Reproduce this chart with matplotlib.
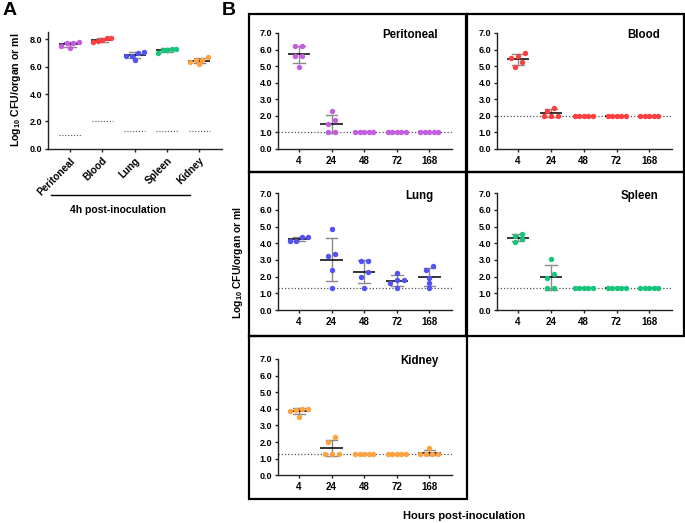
import numpy as np
import matplotlib
matplotlib.use('Agg')
import matplotlib.pyplot as plt
from matplotlib.lines import Line2D
from matplotlib.patches import Rectangle

plt.rcParams['font.family'] = ['Liberation Sans', 'DejaVu Sans']
plt.rcParams['font.weight'] = 'bold'
plt.rcParams['mathtext.fontset'] = 'custom'
plt.rcParams['mathtext.rm'] = 'Liberation Sans:bold'
plt.rcParams['mathtext.it'] = 'Liberation Sans:bold'
plt.rcParams['mathtext.bf'] = 'Liberation Sans:bold'

# ---------------- data ----------------
organs = ['Peritoneal', 'Blood', 'Lung', 'Spleen', 'Kidney']
organ_colors = ['#c35ce0', '#ff3f3f', '#5252f5', '#17c57a', '#ffa23f']
detection_limit = [1.0, 2.0, 1.3, 1.3, 1.3]
hours = ['4', '24', '48', '72', '168']

# Panel A: 4 h post-inoculation
a_peritoneal = [7.82, 7.70, 7.50, 7.40, 7.72]
a_blood = [8.12, 7.92, 7.80, 7.85, 8.10]
a_lung = [7.05, 6.80, 6.48, 6.80, 7.02]
a_spleen = [7.32, 7.20, 7.02, 7.25, 7.30]
a_kidney = [6.68, 6.50, 6.22, 6.32, 6.52]

# Panel B: time course (hours 4, 24, 48, 72, 168)
b_peritoneal = [[6.2, 6.2, 5.6, 5.6, 4.95],
                [2.3, 1.75, 1.5, 1.0, 1.0],
                [1.0, 1.0, 1.0, 1.0, 1.0],
                [1.0, 1.0, 1.0, 1.0, 1.0],
                [1.0, 1.0, 1.0, 1.0, 1.0]]
b_blood = [[5.8, 5.6, 5.5, 5.25, 4.95],
           [2.5, 2.3, 2.0, 2.0, 2.0],
           [2.0, 2.0, 2.0, 2.0, 2.0],
           [2.0, 2.0, 2.0, 2.0, 2.0],
           [2.0, 2.0, 2.0, 2.0, 2.0]]
b_lung = [[4.35, 4.13, 4.13, 4.38],
          [4.84, 3.34, 3.24, 2.40, 1.30],
          [2.95, 2.95, 2.25, 2.00, 1.30],
          [2.22, 1.82, 1.80, 1.62, 1.32],
          [2.66, 2.38, 1.94, 1.62, 1.30]]
b_spleen = [[4.58, 4.42, 4.24, 4.08],
            [3.06, 2.18, 1.94, 1.30, 1.30],
            [1.3, 1.3, 1.3, 1.3, 1.3],
            [1.3, 1.3, 1.3, 1.3, 1.3],
            [1.3, 1.3, 1.3, 1.3, 1.3]]
b_kidney = [[4.02, 3.95, 3.85, 4.02, 3.52],
            [2.32, 2.02, 1.30, 1.30, 1.30],
            [1.3, 1.3, 1.3, 1.3, 1.3],
            [1.3, 1.3, 1.3, 1.3, 1.3],
            [1.62, 1.30, 1.30, 1.30, 1.30]]

a_data = [a_peritoneal, a_blood, a_lung, a_spleen, a_kidney]
b_data = [b_peritoneal, b_blood, b_lung, b_spleen, b_kidney]

# ---------------- figure ----------------
W, H = 685, 523
fig = plt.figure(figsize=(W / 100, H / 100), dpi=100)


def add_ax(x0, x1, ytop, ybot):
    return fig.add_axes([x0 / W, 1 - ybot / H, (x1 - x0) / W, (ybot - ytop) / H])


BIN_PX = 5.0
MAX_STEP_PX = 7.0
MAX_SPAN_PX = 18.0


def swarm(ax, x, vals, color, ms=3.9):
    vals = np.asarray(vals, float)
    t0 = ax.transData.transform((0, 0))
    t1 = ax.transData.transform((1, 1))
    pxx, pxy = t1[0] - t0[0], t1[1] - t0[1]
    order = np.argsort(-vals, kind='stable')
    bins, cur = [], []
    for i in order:
        if cur and (vals[cur[0]] - vals[i]) * pxy < BIN_PX:
            cur.append(i)
        else:
            if cur:
                bins.append(cur)
            cur = [i]
    bins.append(cur)
    offs = np.zeros(len(vals))
    for b in bins:
        bs = sorted(b, key=lambda i: vals[i])
        n = len(bs)
        step = min(MAX_STEP_PX, MAX_SPAN_PX / (n - 1)) if n > 1 else 0
        for k, i in enumerate(bs):
            offs[i] = (k - (n - 1) / 2) * step / pxx
    m, s = vals.mean(), vals.std(ddof=1)
    ax.plot([x - 0.34, x + 0.34], [m, m], color='black', lw=1.1, zorder=2,
            solid_capstyle='butt')
    if s > 0:
        ax.plot([x, x], [m - s, m + s], color='#8a8a8a', lw=1.0, zorder=1.5)
        for yy in (m - s, m + s):
            ax.plot([x - 0.18, x + 0.18], [yy, yy], color='#8a8a8a', lw=1.0,
                    zorder=1.5)
    ax.plot(x + offs, vals, 'o', color=color, ms=ms, mew=0, zorder=3)


def style(ax, yticks, xlabels, xfs=7, rot=0):
    for sp in ('top', 'right'):
        ax.spines[sp].set_visible(False)
    for sp in ('left', 'bottom'):
        ax.spines[sp].set_linewidth(1.0)
        ax.spines[sp].set_color('#222222')
    ax.set_yticks(yticks)
    ax.set_yticklabels([f'{v:.1f}' for v in yticks], fontsize=6.5,
                       fontweight='bold')
    ax.set_xticks(range(len(xlabels)))
    if rot:
        ax.set_xticklabels(xlabels, fontsize=xfs, fontweight='bold',
                           rotation=rot, ha='right', rotation_mode='anchor')
    else:
        ax.set_xticklabels(xlabels, fontsize=xfs, fontweight='bold')
    ax.tick_params(axis='y', length=2.5, width=1.0, pad=1.5, colors='#222222',
                   labelcolor='black')
    ax.tick_params(axis='x', length=2.5, width=1.0, pad=2.5, colors='#222222',
                   labelcolor='black')
    ax.patch.set_alpha(0)


# ---------- Panel A ----------
axA = add_ax(48, 222, 31.7, 148.7)
axA.set_xlim(-0.68, 4.7)
axA.set_ylim(0, 8.56)
style(axA, [0, 2, 4, 6, 8], organs, xfs=7.2, rot=45)
for i, (vals, col, lod) in enumerate(zip(a_data, organ_colors, detection_limit)):
    axA.plot([i - 0.33, i + 0.33], [lod, lod], color='#555555', lw=0.8,
             ls=(0, (1, 1.6)), zorder=1)
    swarm(axA, i, vals, col)
axA.set_ylabel(r'Log$_{\mathrm{10}}$ CFU/organ or ml', fontsize=7.6,
               fontweight='bold', labelpad=5)

fig.add_artist(Line2D([51 / W, 190 / W], [1 - 195 / H, 1 - 195 / H],
                      color='black', lw=1.0))
fig.text(118 / W, 1 - 210 / H, '4h post-inoculation', ha='center',
         va='center', fontsize=7.5, fontweight='bold')

fig.text(3 / W, 1 - 2 / H, 'A', ha='left', va='top', fontsize=14,
         fontweight='bold')
fig.text(222 / W, 1 - 2 / H, 'B', ha='left', va='top', fontsize=14,
         fontweight='bold')

# ---------- Panel B ----------
b_axes_px = [
    (277.7, 452, 33, 149),
    (496.7, 672, 33, 149),
    (277.7, 452, 193.3, 310),
    (496.7, 672, 193.3, 310),
    (277.7, 452, 359, 475.3),
]
title_x = [3.4, 3.82, 3.7, 3.71, 3.7]
for k, (organ, col, lod, series) in enumerate(zip(organs, organ_colors,
                                                   detection_limit, b_data)):
    x0, x1, yt, yb = b_axes_px[k]
    ax = add_ax(x0, x1, yt, yb)
    ax.set_xlim(-0.65, 4.69)
    ax.set_ylim(0, 7)
    style(ax, [0, 1, 2, 3, 4, 5, 6, 7], hours, xfs=7)
    ax.axhline(lod, color='#555555', lw=0.9, ls=(0, (1, 1.6)), zorder=1)
    for j, vals in enumerate(series):
        swarm(ax, j, vals, col)
    ax.text(title_x[k], 6.85, organ, ha='center', va='center', fontsize=8.3,
            fontweight='bold')

# panel boxes
boxes = [(249, 14, 466.5, 171.5), (466.5, 14, 684, 171.5),
         (249, 171.5, 466.5, 336), (466.5, 171.5, 684, 336),
         (249, 336, 466.5, 499)]
for (bx0, by0, bx1, by1) in boxes:
    fig.add_artist(Rectangle((bx0 / W, 1 - by1 / H), (bx1 - bx0) / W,
                             (by1 - by0) / H, fill=False, ec='black', lw=1.6,
                             transform=fig.transFigure))

fig.text(238 / W, 1 - 262 / H, r'Log$_{\mathrm{10}}$ CFU/organ or ml',
         rotation=90, ha='center', va='center', fontsize=7.5,
         fontweight='bold')
fig.text(464 / W, 1 - 516 / H, 'Hours post-inoculation', ha='center',
         va='center', fontsize=8, fontweight='bold')

fig.savefig('out.png', dpi=100)
